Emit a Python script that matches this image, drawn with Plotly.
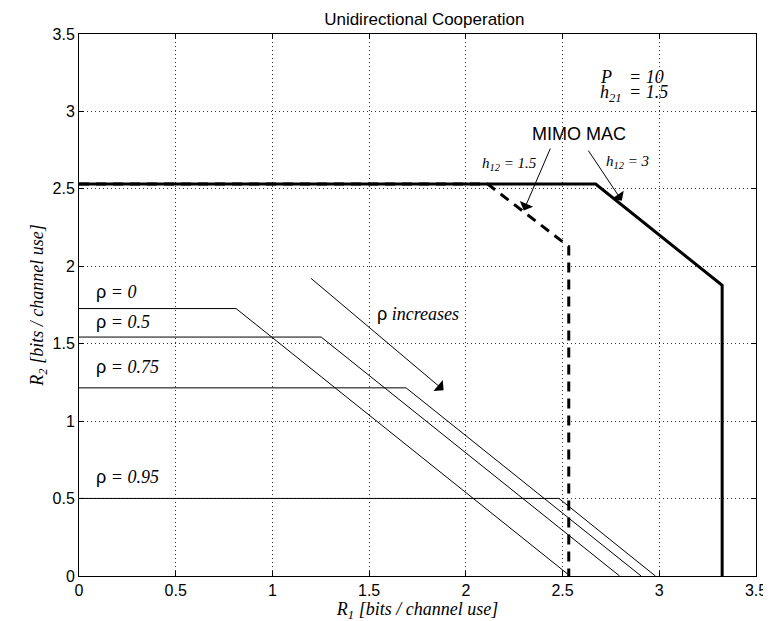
import plotly.graph_objects as go

# ---- data ----
rho_labels = ["0", "0.5", "0.75", "0.95"]
rho_x = [[0, 0.812, 2.539], [0, 1.252, 2.795], [0, 1.691, 2.906], [0, 2.481, 2.980]]
rho_y = [[1.727, 1.727, 0], [1.543, 1.543, 0], [1.215, 1.215, 0], [0.501, 0.501, 0]]

mac3_x = [0, 2.671, 3.325, 3.325]       # h12 = 3 (solid)
mac3_y = [2.531, 2.531, 1.877, 0]
mac15_x = [0, 2.113, 2.532, 2.532]      # h12 = 1.5 (dashed)
mac15_y = [2.531, 2.531, 2.128, 0]

ticks = [0, 0.5, 1, 1.5, 2, 2.5, 3, 3.5]
tick_text = ["0", "0.5", "1", "1.5", "2", "2.5", "3", "3.5"]

rho_label_y = [1.833, 1.64, 1.35, 0.64]

SERIF = "Liberation Serif, Times New Roman, serif"
SANS = "Liberation Sans, Arial, sans-serif"
NARROW = "Liberation Sans Narrow, Arial Narrow, Liberation Sans, sans-serif"

fig = go.Figure()
for lx, ly in zip(rho_x, rho_y):
    fig.add_trace(go.Scatter(x=lx, y=ly, mode="lines",
                             line=dict(color="black", width=1), hoverinfo="skip"))
fig.add_trace(go.Scatter(x=mac15_x, y=mac15_y, mode="lines",
                         line=dict(color="black", width=3, dash="10px,7px")))
fig.add_trace(go.Scatter(x=mac3_x, y=mac3_y, mode="lines",
                         line=dict(color="black", width=3)))

ann = []
def rho_txt(v):
    return ('<span style="font-family:Liberation Sans;font-style:normal">ρ</span>'
            '<i> = ' + v + '</i>')

for lab, yy in zip(rho_labels, rho_label_y):
    ann.append(dict(x=0.08, y=yy, text=rho_txt(lab), showarrow=False,
                    xanchor="left", yanchor="middle",
                    font=dict(family=SERIF, size=18, color="black")))

ann.append(dict(x=1.754, y=1.693,
                text='<span style="font-family:Liberation Sans;font-style:normal">ρ</span><i> increases</i>',
                showarrow=False, xanchor="center", yanchor="middle",
                font=dict(family=SERIF, size=18, color="black")))
ann.append(dict(x=2.586, y=2.853, text="MIMO MAC", showarrow=False,
                xanchor="center", yanchor="middle",
                font=dict(family=SANS, size=18, color="black")))
ann.append(dict(x=2.075, y=2.66, text="<i>h</i><sub><i>12</i></sub><i> = 1.5</i>",
                showarrow=False, xanchor="left", yanchor="middle",
                font=dict(family=SERIF, size=15, color="black")))
ann.append(dict(x=2.715, y=2.671, text="<i>h</i><sub><i>12</i></sub><i> = 3</i>",
                showarrow=False, xanchor="left", yanchor="middle",
                font=dict(family=SERIF, size=15, color="black")))
ann.append(dict(x=2.684, y=3.224, text="<i>P</i>", showarrow=False,
                xanchor="left", yanchor="middle",
                font=dict(family=SERIF, size=18, color="black")))
ann.append(dict(x=2.835, y=3.224, text="<i>= 10</i>", showarrow=False,
                xanchor="left", yanchor="middle",
                font=dict(family=SERIF, size=18, color="black")))
ann.append(dict(x=2.684, y=3.115, text="<i>h</i><sub><i>21</i></sub>", showarrow=False,
                xanchor="left", yanchor="middle",
                font=dict(family=SERIF, size=18, color="black")))
ann.append(dict(x=2.835, y=3.125, text="<i>= 1.5</i>", showarrow=False,
                xanchor="left", yanchor="middle",
                font=dict(family=SERIF, size=18, color="black")))

# arrows: (tail x, tail y, head x, head y)
arrow_tail_x = [1.192, 2.44, 2.628]
arrow_tail_y = [1.93, 2.77, 2.757]
arrow_head_x = [1.885, 2.299, 2.806]
arrow_head_y = [1.20, 2.36, 2.424]
for tx, ty, hx, hy in zip(arrow_tail_x, arrow_tail_y, arrow_head_x, arrow_head_y):
    ann.append(dict(x=hx, y=hy, ax=tx, ay=ty, xref="x", yref="y",
                    axref="x", ayref="y", text="", showarrow=True,
                    arrowhead=1, arrowsize=2.4, arrowwidth=1, arrowcolor="black"))

axis_common = dict(range=[0, 3.5], tickmode="array", tickvals=ticks, ticktext=tick_text,
                   showline=True, linecolor="black", linewidth=1, mirror="ticks",
                   ticks="inside", ticklen=5, tickcolor="black",
                   showgrid=True, gridcolor="#333", gridwidth=1, griddash="1px,3px",
                   zeroline=False, tickfont=dict(family=SANS, size=16, color="black"))

fig.update_layout(
    width=771, height=621,
    margin=dict(l=71, r=12, t=26, b=53),
    paper_bgcolor="white", plot_bgcolor="white",
    showlegend=False,
    title=dict(text="Unidirectional Cooperation", x=0.54, xanchor="center",
               y=1 - 11 / 621, yanchor="middle", yref="container",
               font=dict(family=NARROW, size=17, color="black")),
    xaxis=dict(axis_common,
               title=dict(text="<i>R</i><sub><i>1</i></sub><i> [bits / channel use]</i>",
                          font=dict(family=SERIF, size=18, color="black"), standoff=0)),
    yaxis=dict(axis_common,
               title=dict(text="<i>R</i><sub><i>2</i></sub><i> [bits / channel use]</i>",
                          font=dict(family=SERIF, size=18, color="black"), standoff=4)),
    annotations=ann,
)

fig.write_html("out.html")
